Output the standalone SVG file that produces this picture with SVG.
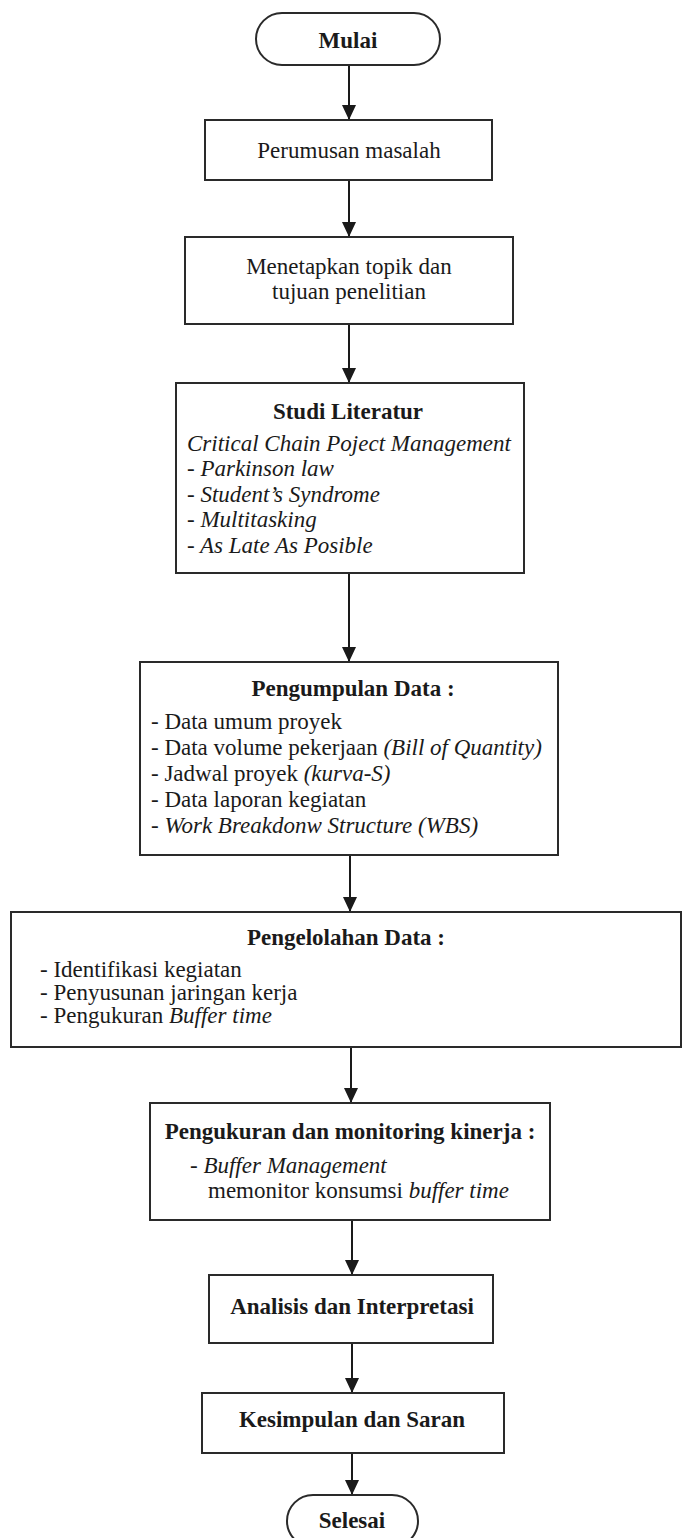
<svg xmlns="http://www.w3.org/2000/svg" width="683" height="1538" viewBox="0 0 683 1538">
<style>
.box{fill:#fff;stroke:#2a2a2a;stroke-width:2}
.t{font-family:"Liberation Serif","Times New Roman",serif;font-size:23px;fill:#1a1a1a}
.b{font-weight:bold}
.i{font-style:italic}
.c{text-anchor:middle}
.ln{stroke:#1a1a1a;stroke-width:2;fill:none}
</style>
<defs>
<marker id="ah" markerUnits="userSpaceOnUse" markerWidth="16" markerHeight="14" refX="15" refY="7" orient="auto">
<path d="M0,0 L15,7 L0,14 Z" fill="#1a1a1a"/>
</marker>
</defs>
<rect width="683" height="1538" fill="#fff"/>
<g id="connectors">
<line class="ln" x1="349" y1="65" x2="349" y2="120" marker-end="url(#ah)"/>
<line class="ln" x1="349" y1="180" x2="349" y2="237" marker-end="url(#ah)"/>
<line class="ln" x1="349" y1="324" x2="349" y2="383" marker-end="url(#ah)"/>
<line class="ln" x1="349" y1="573" x2="349" y2="662" marker-end="url(#ah)"/>
<line class="ln" x1="350" y1="855" x2="350" y2="912" marker-end="url(#ah)"/>
<line class="ln" x1="351" y1="1047" x2="351" y2="1103" marker-end="url(#ah)"/>
<line class="ln" x1="352" y1="1220" x2="352" y2="1275" marker-end="url(#ah)"/>
<line class="ln" x1="352" y1="1343" x2="352" y2="1393" marker-end="url(#ah)"/>
<line class="ln" x1="352" y1="1453" x2="352" y2="1495" marker-end="url(#ah)"/>
</g>
<g id="mulai">
<rect class="box" x="256" y="13" width="184" height="52" rx="26" ry="26"/>
<text class="t b c" x="348" y="48">Mulai</text>
</g>
<g id="perumusan">
<rect class="box" x="205" y="120" width="287" height="60"/>
<text class="t c" x="349" y="158">Perumusan masalah</text>
</g>
<g id="menetapkan">
<rect class="box" x="185" y="237" width="328" height="87"/>
<text class="t c" x="349" y="274">Menetapkan topik dan</text>
<text class="t c" x="349" y="299">tujuan penelitian</text>
</g>
<g id="studi">
<rect class="box" x="176" y="383" width="348" height="190"/>
<text class="t b c" x="348" y="419">Studi Literatur</text>
<text class="t i" x="187" y="451">Critical Chain Poject Management</text>
<text class="t i" x="187" y="476">- Parkinson law</text>
<text class="t i" x="187" y="502">- Student’s Syndrome</text>
<text class="t i" x="187" y="527">- Multitasking</text>
<text class="t i" x="187" y="553">- As Late As Posible</text>
</g>
<g id="pengumpulan">
<rect class="box" x="140" y="662" width="418" height="193"/>
<text class="t b c" x="353" y="696">Pengumpulan Data :</text>
<text class="t" x="151" y="729">- Data umum proyek</text>
<text class="t" x="151" y="755">- Data volume pekerjaan <tspan class="i">(Bill of Quantity)</tspan></text>
<text class="t" x="151" y="781">- Jadwal proyek <tspan class="i">(kurva-S)</tspan></text>
<text class="t" x="151" y="807">- Data laporan kegiatan</text>
<text class="t" x="151" y="833"><tspan class="i">- Work Breakdonw Structure (WBS)</tspan></text>
</g>
<g id="pengelolahan">
<rect class="box" x="11" y="912" width="670" height="135"/>
<text class="t b c" x="346" y="945">Pengelolahan Data :</text>
<text class="t" x="40" y="977">- Identifikasi kegiatan</text>
<text class="t" x="40" y="1000">- Penyusunan jaringan kerja</text>
<text class="t" x="40" y="1023">- Pengukuran <tspan class="i">Buffer time</tspan></text>
</g>
<g id="pengukuran">
<rect class="box" x="150" y="1103" width="400" height="117"/>
<text class="t b c" x="350" y="1139">Pengukuran dan monitoring kinerja :</text>
<text class="t i" x="190" y="1173">- Buffer Management</text>
<text class="t" x="208" y="1198">memonitor konsumsi <tspan class="i">buffer time</tspan></text>
</g>
<g id="analisis">
<rect class="box" x="209" y="1275" width="284" height="68"/>
<text class="t b c" x="352" y="1314">Analisis dan Interpretasi</text>
</g>
<g id="kesimpulan">
<rect class="box" x="202" y="1393" width="302" height="60"/>
<text class="t b c" x="352" y="1427">Kesimpulan dan Saran</text>
</g>
<g id="selesai">
<rect class="box" x="287" y="1495" width="131" height="52" rx="26" ry="26"/>
<text class="t b c" x="352" y="1528">Selesai</text>
</g>
</svg>
